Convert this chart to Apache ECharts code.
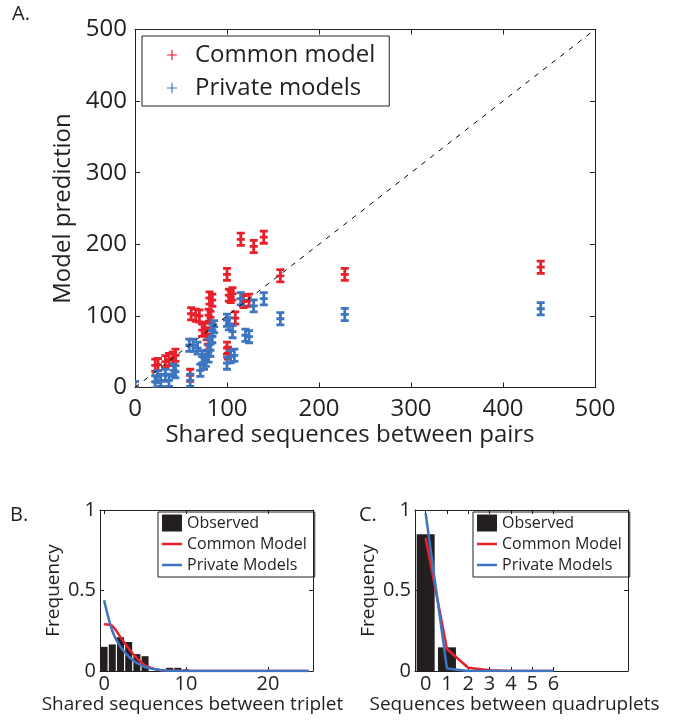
<!DOCTYPE html>
<html>
<head>
    <meta charset="utf-8">
    <title>Shared sequences: model predictions</title>
    <script src="https://cdn.jsdelivr.net/npm/echarts@6/dist/echarts.min.js"></script>
</head>
<body style="margin:0;background:#fff;">
<div id="chart-container" style="width: 691px; height: 721px;"></div>
<script>
    // Panel A: shared sequences between pairs vs model prediction
    var commonX = [0, 22, 25, 33, 37, 41, 44, 60, 61, 66, 70, 73, 76, 78, 80, 81, 82, 84, 79,
                   100, 100, 101, 102, 104, 106, 109, 115, 118, 124, 129, 140, 158, 228, 441];
    var commonY = [0, 31, 32, 36, 39, 41, 45, 17, 103, 101, 100, 80, 82, 75, 101, 125, 98, 122, 52,
                   158, 55, 48, 129, 127, 131, 97, 207, 120, 122, 197, 210, 156, 158, 168];
    var privateX = [0, 22, 24, 28, 33, 37, 42, 44, 60, 59, 63, 68, 71, 73, 75, 77, 80, 80, 82, 84,
                    86, 84, 100, 100, 102, 104, 106, 108, 115, 120, 124, 129, 140, 158, 228, 441];
    var privateY = [0, 8, 15, 10, 17, 10, 24, 22, 10, 59, 59, 55, 24, 43, 34, 38, 59, 44, 52, 80,
                    85, 71, 94, 34, 89, 43, 78, 45, 124, 73, 71, 114, 124, 96, 102, 110];
    var errHalf = 8.5;

    // Panel B: triplets (x = 0..25)
    var tripletObserved = [0.15, 0.165, 0.21, 0.18, 0.105, 0.092, 0, 0, 0.02, 0.02, 0.01, 0, 0,
                           0, 0, 0, 0, 0, 0, 0, 0, 0, 0, 0, 0, 0];
    var tripletCommon = [0.29, 0.28, 0.21, 0.14, 0.08, 0.035, 0.015, 0.005, 0.002, 0.001, 0, 0, 0,
                         0, 0, 0, 0, 0, 0, 0, 0, 0, 0, 0, 0, 0];
    var tripletPrivate = [0.44, 0.25, 0.15, 0.09, 0.05, 0.025, 0.012, 0.005, 0.002, 0.001, 0, 0, 0,
                          0, 0, 0, 0, 0, 0, 0, 0, 0, 0, 0, 0, 0];

    // Panel C: quadruplets
    var quadObserved = [0.85, 0.147, 0, 0, 0, 0, 0, 0, 0, 0];
    var quadCommon = [0.826, 0.137, 0.02, 0.005, 0, 0, 0];
    var quadPrivate = [0.98, 0.015, 0, 0, 0, 0, 0];

    var tripletTicks = [0, 10, 20];
    var quadTicks = [0, 1, 2, 3, 4, 5, 6];

    var RED = '#e8202a';
    var BLUE = '#3d75c0';
    var INK = '#231f20';
    var FONT = 'Open Sans';

    function zip(xs, ys) {
        return xs.map(function (x, i) { return [x, ys[i]]; });
    }
    function indexed(ys) {
        return ys.map(function (y, i) { return [i, y]; });
    }

    function renderErrorBar(params, api) {
        var x = api.value(0);
        var y = api.value(1);
        var pTop = api.coord([x, y + errHalf]);
        var pMid = api.coord([x, y]);
        var pBot = api.coord([x, y - errHalf]);
        var cap = 4;
        var style = { stroke: api.visual('color'), lineWidth: 2.8, fill: null };
        function seg(x1, y1, x2, y2) {
            return { type: 'line', shape: { x1: x1, y1: y1, x2: x2, y2: y2 }, style: style };
        }
        return {
            type: 'group',
            children: [
                seg(pTop[0], pTop[1], pBot[0], pBot[1]),
                seg(pTop[0] - cap, pTop[1], pTop[0] + cap, pTop[1]),
                seg(pBot[0] - cap, pBot[1], pBot[0] + cap, pBot[1]),
                seg(pMid[0] - cap, pMid[1], pMid[0] + cap, pMid[1])
            ]
        };
    }

    function boxAxis(extra) {
        var base = {
            type: 'value',
            splitLine: { show: false },
            axisLine: { show: true, onZero: false, lineStyle: { color: INK, width: 1 } },
            axisTick: { show: true, inside: true, length: 5, lineStyle: { color: INK } },
            axisLabel: { color: INK, fontFamily: FONT }
        };
        return Object.assign(base, extra);
    }

    var plusIcon = 'path://M4.4,0H5.6V4.4H10V5.6H5.6V10H4.4V5.6H0V4.4H4.4Z';
    var lineIcon = 'path://M0,0H20V2.5H0Z';

    function smallLegend(left) {
        return {
            left: left, top: 512, orient: 'vertical',
            borderColor: INK, borderWidth: 1,
            padding: [2, 8, 3, 4], itemGap: 3,
            itemWidth: 20, itemHeight: 17,
            textStyle: { fontSize: 16, lineHeight: 18, color: INK, fontFamily: FONT },
            data: [
                { name: 'Observed', icon: 'rect' },
                { name: 'Common Model', icon: lineIcon },
                { name: 'Private Models', icon: lineIcon }
            ]
        };
    }

    var option = {
        backgroundColor: '#fff',
        animation: false,
        textStyle: { fontFamily: FONT, color: INK },
        graphic: [
            { type: 'text', left: 12, top: 4, style: { text: 'A.', font: '20px "Open Sans"', fill: INK } },
            { type: 'text', left: 10, top: 505, style: { text: 'B.', font: '20px "Open Sans"', fill: INK } },
            { type: 'text', left: 359, top: 505, style: { text: 'C.', font: '20px "Open Sans"', fill: INK } }
        ],
        grid: [
            { left: 135, top: 29.5, width: 460, height: 358 },
            { left: 100, top: 510, width: 213, height: 161 },
            { left: 415, top: 510, width: 213, height: 161 }
        ],
        legend: [
            {
                left: 142, top: 36, orient: 'vertical',
                borderColor: INK, borderWidth: 1,
                padding: [5, 14, 4, 25], itemGap: 5,
                itemWidth: 36, itemHeight: 10,
                textStyle: { fontSize: 24, lineHeight: 28, color: INK, fontFamily: FONT },
                data: [
                    { name: 'Common model', icon: plusIcon },
                    { name: 'Private models', icon: plusIcon }
                ]
            },
            smallLegend(158),
            smallLegend(473)
        ],
        xAxis: [
            boxAxis({
                gridIndex: 0, min: 0, max: 500, interval: 100,
                name: 'Shared sequences between pairs', nameLocation: 'middle', nameGap: 36,
                nameTextStyle: { fontSize: 24, color: INK, fontFamily: FONT, padding: [0, 30, 0, 0] },
                axisLabel: { fontSize: 24, margin: 10, color: INK, fontFamily: FONT }
            }),
            boxAxis({ gridIndex: 0, position: 'top', min: 0, max: 500, interval: 100,
                axisLabel: { show: false } }),
            boxAxis({
                gridIndex: 1, min: -0.5, max: 25.5,
                name: 'Shared sequences between triplet', nameLocation: 'middle', nameGap: 19,
                nameTextStyle: { fontSize: 19, color: INK, fontFamily: FONT, padding: [0, 28, 0, 0] },
                axisTick: { show: true, inside: true, length: 4, customValues: tripletTicks, lineStyle: { color: INK } },
                axisLabel: { fontSize: 20, margin: 3, color: INK, fontFamily: FONT, customValues: tripletTicks }
            }),
            boxAxis({ gridIndex: 1, position: 'top', min: -0.5, max: 25.5,
                axisTick: { show: true, inside: true, length: 4, customValues: tripletTicks, lineStyle: { color: INK } },
                axisLabel: { show: false } }),
            boxAxis({
                gridIndex: 2, min: -0.5, max: 9.5,
                name: 'Sequences between quadruplets', nameLocation: 'middle', nameGap: 19,
                nameTextStyle: { fontSize: 19, color: INK, fontFamily: FONT, padding: [0, 14, 0, 0] },
                axisTick: { show: true, inside: true, length: 4, customValues: quadTicks, lineStyle: { color: INK } },
                axisLabel: { fontSize: 20, margin: 3, color: INK, fontFamily: FONT, customValues: quadTicks }
            }),
            boxAxis({ gridIndex: 2, position: 'top', min: -0.5, max: 9.5,
                axisTick: { show: true, inside: true, length: 4, customValues: quadTicks, lineStyle: { color: INK } },
                axisLabel: { show: false } })
        ],
        yAxis: [
            boxAxis({
                gridIndex: 0, min: 0, max: 500, interval: 100,
                name: 'Model prediction', nameLocation: 'middle', nameGap: 49,
                nameTextStyle: { fontSize: 24, color: INK, fontFamily: FONT },
                axisLabel: { fontSize: 24, margin: 8, color: INK, fontFamily: FONT }
            }),
            boxAxis({ gridIndex: 0, position: 'right', min: 0, max: 500, interval: 100,
                axisLabel: { show: false } }),
            boxAxis({
                gridIndex: 1, min: 0, max: 1, interval: 0.5,
                name: 'Frequency', nameLocation: 'middle', nameGap: 37,
                nameTextStyle: { fontSize: 19, color: INK, fontFamily: FONT },
                axisTick: { show: true, inside: true, length: 4, lineStyle: { color: INK } },
                axisLabel: { fontSize: 20, margin: 4, color: INK, fontFamily: FONT }
            }),
            boxAxis({ gridIndex: 1, position: 'right', min: 0, max: 1, interval: 0.5,
                axisTick: { show: true, inside: true, length: 4, lineStyle: { color: INK } },
                axisLabel: { show: false } }),
            boxAxis({
                gridIndex: 2, min: 0, max: 1, interval: 0.5,
                name: 'Frequency', nameLocation: 'middle', nameGap: 37,
                nameTextStyle: { fontSize: 19, color: INK, fontFamily: FONT },
                axisTick: { show: true, inside: true, length: 4, lineStyle: { color: INK } },
                axisLabel: { fontSize: 20, margin: 4, color: INK, fontFamily: FONT }
            }),
            boxAxis({ gridIndex: 2, position: 'right', min: 0, max: 1, interval: 0.5,
                axisTick: { show: true, inside: true, length: 4, lineStyle: { color: INK } },
                axisLabel: { show: false } })
        ],
        series: [
            {
                name: 'Common model', type: 'custom', xAxisIndex: 0, yAxisIndex: 0,
                renderItem: renderErrorBar, clip: true, color: RED,
                encode: { x: 0, y: 1 }, data: zip(commonX, commonY), z: 2
            },
            {
                name: 'Private models', type: 'custom', xAxisIndex: 0, yAxisIndex: 0,
                renderItem: renderErrorBar, clip: true, color: BLUE,
                encode: { x: 0, y: 1 }, data: zip(privateX, privateY), z: 2
            },
            {
                name: 'diagonal', type: 'line', xAxisIndex: 0, yAxisIndex: 0,
                data: [[0, 0], [500, 500]], symbol: 'none', silent: true, z: 4,
                lineStyle: { color: '#000', width: 1, type: [5, 6] }
            },
            {
                name: 'Observed', type: 'bar', xAxisIndex: 2, yAxisIndex: 2,
                data: indexed(tripletObserved), barWidth: 7, color: INK
            },
            {
                name: 'Common Model', type: 'line', xAxisIndex: 2, yAxisIndex: 2,
                data: indexed(tripletCommon), symbol: 'none', color: RED, smooth: 0.3,
                lineStyle: { width: 2.5 }, z: 3
            },
            {
                name: 'Private Models', type: 'line', xAxisIndex: 2, yAxisIndex: 2,
                data: indexed(tripletPrivate), symbol: 'none', color: BLUE, smooth: 0.3,
                lineStyle: { width: 2.5 }, z: 4
            },
            {
                name: 'Observed', type: 'bar', xAxisIndex: 4, yAxisIndex: 4,
                data: indexed(quadObserved), barWidth: 18, color: INK
            },
            {
                name: 'Common Model', type: 'line', xAxisIndex: 4, yAxisIndex: 4,
                data: indexed(quadCommon), symbol: 'none', color: RED,
                lineStyle: { width: 2.5 }, z: 3
            },
            {
                name: 'Private Models', type: 'line', xAxisIndex: 4, yAxisIndex: 4,
                data: indexed(quadPrivate), symbol: 'none', color: BLUE,
                lineStyle: { width: 2.5 }, z: 4
            }
        ]
    };

    var chart = echarts.init(document.getElementById('chart-container'));
    chart.setOption(option);
</script>
</body>
</html>
